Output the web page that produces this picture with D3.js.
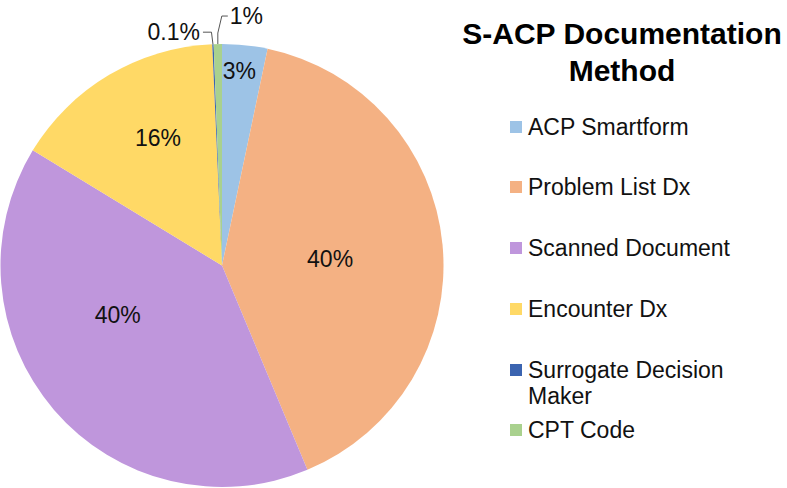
<!DOCTYPE html>
<html>
<head>
<meta charset="utf-8">
<script src="https://cdn.jsdelivr.net/npm/d3@7"></script>
<style>
  html, body { margin: 0; padding: 0; background: #fff; }
  svg { display: block; }
  text { font-family: "Liberation Sans", Arial, sans-serif; }
</style>
</head>
<body>
<svg id="chart" width="787" height="488"></svg>
<script>
// ---- data ----
const categories = ["ACP Smartform", "Problem List Dx", "Scanned Document", "Encounter Dx", "Surrogate Decision Maker", "CPT Code"];
const values = [3.3, 40.4, 40.0, 15.6, 0.1, 0.6];
const valueLabels = ["3%", "40%", "40%", "16%", "0.1%", "1%"];
const colors = ["#9DC3E6", "#F4B183", "#BF96DC", "#FFD966", "#3B64B0", "#A9D18E"];
const title = ["S-ACP Documentation", "Method"];

// ---- layout ----
const svg = d3.select("#chart");
const cx = 222, cy = 265.5, R = 221.5;
const labelFont = 23, legendFont = 23, titleFont = 30;
// inside-label placement: [angle in degrees clockwise from 12 o'clock, radius fraction]
const insideLabelPos = [[5.1, 0.884], [86.3, 0.489], [244.8, 0.52], [333.4, 0.646]];

const pie = d3.pie().sort(null).startAngle(0).endAngle(2 * Math.PI)(values);
const arc = d3.arc().innerRadius(0).outerRadius(R);

const g = svg.append("g").attr("transform", `translate(${cx},${cy})`);
g.selectAll("path.slice")
  .data(pie)
  .join("path")
  .attr("class", "slice")
  .attr("d", arc)
  .attr("fill", (d, i) => colors[i]);

// inside labels
insideLabelPos.forEach((p, i) => {
  const a = p[0] * Math.PI / 180, r = p[1] * R;
  g.append("text")
    .attr("x", r * Math.sin(a))
    .attr("y", -r * Math.cos(a))
    .attr("dy", "0.35em")
    .attr("text-anchor", "middle")
    .attr("font-size", labelFont)
    .attr("fill", "#111")
    .text(valueLabels[i]);
});

// outside labels with leader lines for the small slices
function edgePoint(d) {
  const a = (d.startAngle + d.endAngle) / 2;
  return [R * Math.sin(a), -R * Math.cos(a)];
}
// Surrogate (index 4)
{
  const [ex, ey] = edgePoint(pie[4]);
  g.append("path")
    .attr("d", `M${ex},${ey} L${ex - 1.5},${ey - 12} L${ex - 10},${ey - 12}`)
    .attr("fill", "none").attr("stroke", "#555").attr("stroke-width", 1);
  g.append("text")
    .attr("x", ex - 13).attr("y", ey - 12).attr("dy", "0.35em")
    .attr("text-anchor", "end").attr("font-size", labelFont).attr("fill", "#111")
    .text(valueLabels[4]);
}
// CPT Code (index 5)
{
  const [ex, ey] = edgePoint(pie[5]);
  g.append("path")
    .attr("d", `M${ex},${ey} L${ex},${ey - 11} L${ex + 4},${ey - 28} L${ex + 10},${ey - 28}`)
    .attr("fill", "none").attr("stroke", "#555").attr("stroke-width", 1);
  g.append("text")
    .attr("x", ex + 12).attr("y", ey - 28).attr("dy", "0.35em")
    .attr("text-anchor", "start").attr("font-size", labelFont).attr("fill", "#111")
    .text(valueLabels[5]);
}

// title
const titleX = 622;
svg.append("text")
  .attr("x", titleX).attr("y", 44)
  .attr("text-anchor", "middle").attr("font-size", titleFont).attr("font-weight", "bold")
  .attr("fill", "#000")
  .selectAll("tspan").data(title).join("tspan")
  .attr("x", titleX).attr("dy", (d, i) => i === 0 ? 0 : 37)
  .text(d => d);

// legend
const legendRowsY = [127, 187, 248, 309, 370, 430];
const legend = svg.append("g");
categories.forEach((c, i) => {
  const y = legendRowsY[i];
  legend.append("rect")
    .attr("x", 510).attr("y", y - 6).attr("width", 12).attr("height", 12)
    .attr("fill", colors[i]);
  const t = legend.append("text")
    .attr("x", 528).attr("y", y)
    .attr("font-size", legendFont).attr("fill", "#111");
  const words = c === "Surrogate Decision Maker" ? ["Surrogate Decision", "Maker"] : [c];
  words.forEach((w, k) => {
    t.append("tspan").attr("x", 528).attr("dy", k === 0 ? "0.35em" : 26).text(w);
  });
});
</script>
</body>
</html>
